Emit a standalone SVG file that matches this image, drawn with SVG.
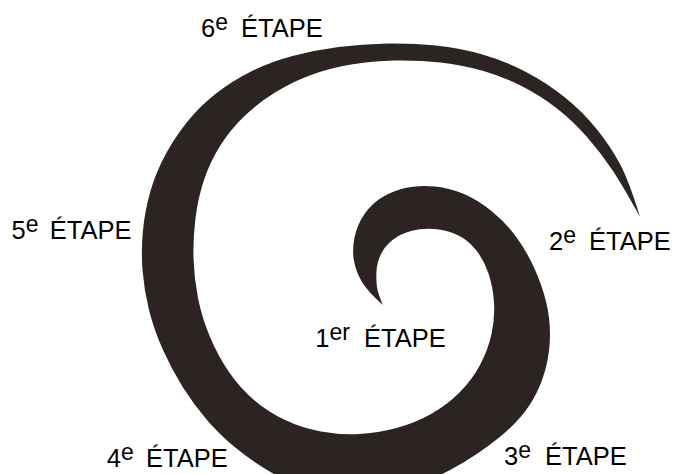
<svg xmlns="http://www.w3.org/2000/svg" width="675" height="474" viewBox="0 0 675 474">
<style>
.lbl{font-family:"Liberation Sans",Arial,Helvetica,sans-serif;font-size:25.5px;fill:#000}
.sup{font-size:23px}
.spiral{fill:#2b2422;stroke:none}
</style>
<rect width="675" height="474" fill="#fff"/>
<g id="spiral">
<path class="spiral" d="M 383,305 Q 368,292 362,282 Q 356,272 354,261 Q 352,250 354.5,237.5 Q 357,225 364.5,214 Q 372,203 383.5,196.5 Q 395,190 407.5,187.5 Q 420,185 435,186.5 Q 450,188 464,194 Q 478,200 491.5,211 Q 505,222 515.5,236 Q 526,250 534,267.5 Q 542,285 546,301.5 Q 550,318 550,334 Q 550,350 546.5,365 Q 543,380 536.5,393 Q 530,406 521,416.5 Q 512,427 501,436 Q 490,445 477.5,453.5 Q 465,462 451,469.5 Q 437,477 418.5,484.5 Q 400,492 377.5,496 Q 355,500 333.5,496 Q 312,492 295,484.5 Q 278,477 263,467.5 Q 248,458 234,446.5 Q 220,435 207,420 Q 194,405 183,387.5 Q 172,370 163,350 Q 154,330 149,310 Q 144,290 142.5,270 Q 141,250 143,230 Q 145,210 150.5,191 Q 156,172 165.5,154.5 Q 175,137 187.5,121.5 Q 200,106 216,93.5 Q 232,81 251,71.5 Q 270,62 292.5,56 Q 315,50 338.5,47 Q 362,44 387,43.5 Q 412,43 436,45.5 Q 460,48 482.5,54.5 Q 505,61 526,72 Q 547,83 565,97.5 Q 583,112 597,129.5 Q 611,147 620,164 Q 629,181 640,217 Q 623,186 612,169.5 Q 601,153 587,137 Q 573,121 557,108.5 Q 541,96 522.5,86.5 Q 504,77 483.5,71 Q 463,65 440.5,62.5 Q 418,60 395,60.5 Q 372,61 351,64.5 Q 330,68 311,75 Q 292,82 275,92.5 Q 258,103 244,116.5 Q 230,130 220,146 Q 210,162 204,180 Q 198,198 195.5,218 Q 193,238 193.5,258 Q 194,278 198,298 Q 202,318 210,337 Q 218,356 229,372 Q 240,388 254,400 Q 268,412 285,420 Q 302,428 321,431.5 Q 340,435 359,434 Q 378,433 396.5,428 Q 415,423 431,414 Q 447,405 459.5,392.5 Q 472,380 480,365 Q 488,350 491.5,334 Q 495,318 494,302.5 Q 493,287 488.5,273.5 Q 484,260 476,250 Q 468,240 457.5,235 Q 447,230 434.5,229 Q 422,228 411,231 Q 400,234 392.5,240 Q 385,246 381,254 Q 377,262 376.5,271 Q 376,280 377,287 Q 378,294 383,305 Z"/>
</g>
<g id="etape6"><text class="lbl" x="201" y="36.7">6<tspan class="sup" dy="-7">e</tspan><tspan x="241" y="36.7">ÉTAPE</tspan></text></g>
<g id="etape5"><text class="lbl" x="11.6" y="239.3">5<tspan class="sup" dy="-7">e</tspan><tspan x="49.7" y="239.3">ÉTAPE</tspan></text></g>
<g id="etape2"><text class="lbl" x="549" y="250">2<tspan class="sup" dy="-7">e</tspan><tspan x="589" y="250">ÉTAPE</tspan></text></g>
<g id="etape1"><text class="lbl" x="315.2" y="346.7">1<tspan class="sup" dy="-7">er</tspan><tspan x="364" y="346.7">ÉTAPE</tspan></text></g>
<g id="etape4"><text class="lbl" x="106.7" y="467">4<tspan class="sup" dy="-7">e</tspan><tspan x="146" y="467">ÉTAPE</tspan></text></g>
<g id="etape3"><text class="lbl" x="504" y="465">3<tspan class="sup" dy="-7">e</tspan><tspan x="545" y="465">ÉTAPE</tspan></text></g>
</svg>
